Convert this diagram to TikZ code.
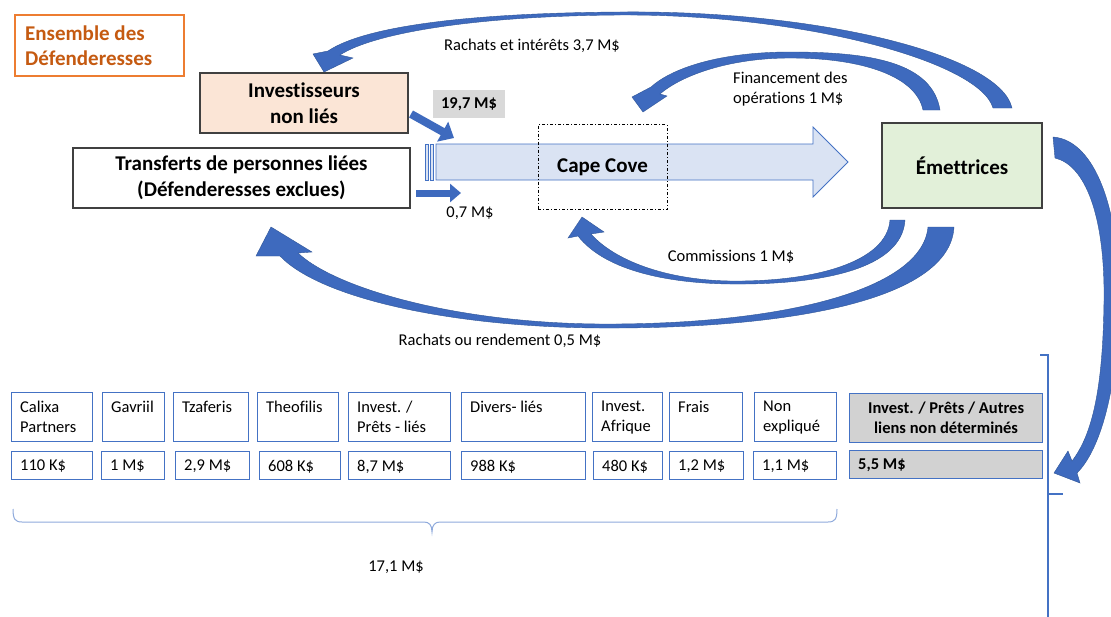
\documentclass[tikz,border=0pt]{standalone}
\usepackage{fontspec}
\setmainfont{Carlito}[RawFeature={-liga;-clig;-calt}]
\usetikzlibrary{arrows.meta}
\definecolor{arrblue}{RGB}{62,106,190}
\definecolor{arredge}{RGB}{47,85,151}
\definecolor{boxblue}{RGB}{68,114,196}
\definecolor{blockfill}{RGB}{218,227,243}
\definecolor{peach}{RGB}{251,229,214}
\definecolor{lgreen}{RGB}{226,240,217}
\definecolor{gbox}{RGB}{210,210,210}
\definecolor{lblgray}{RGB}{217,217,217}
\definecolor{orangeb}{RGB}{237,125,49}
\definecolor{oranget}{RGB}{197,90,17}
\definecolor{braceblue}{RGB}{143,170,220}
\newcommand\boxpair[7]{%
  \pgfmathsetmacro\wa{#3-#2}\pgfmathsetmacro\wb{#6-#5}%
  \node[sbox, minimum width=\wa pt, minimum height=49pt, anchor=north west] (#1l) at (#2,392) {};
  \node[stxt, anchor=north west] at ([xshift=9pt,yshift=-8.5pt]#1l.north west) {#4};
  \node[sbox, minimum width=\wb pt, minimum height=28pt, anchor=north west] (#1v) at (#5,451) {};
  \node[stxt, anchor=north west] at ([xshift=9pt,yshift=-9pt]#1v.north west) {#7};
}
\begin{document}
\begin{tikzpicture}[x=1pt,y=-1pt,
  bigbox/.style={draw=black!75, line width=1.2pt, inner sep=0pt, align=center,
     font=\fontsize{21}{26}\selectfont\bfseries},
  sbox/.style={draw=boxblue, line width=1.2pt, inner sep=0pt},
  stxt/.style={inner sep=0pt, align=left, font=\fontsize{16.5}{20}\selectfont},
  lbl/.style={inner sep=0pt, align=center, font=\fontsize{16.5}{20}\selectfont},
  curv/.style={fill=arrblue, draw=arredge, line width=0.4pt},
  sarrow/.style={draw=arrblue},
  brace/.style={draw=braceblue, line width=1pt},
  rbrace/.style={draw=boxblue, line width=2pt}]
\fill[white] (0,0) rectangle (1111,616);
\useasboundingbox (0,0) rectangle (1111,616);

% Ensemble des Défenderesses
\node[draw=orangeb, line width=1.5pt, minimum width=169pt, minimum height=61pt, inner sep=0pt] (ens) at (99.5,45.5) {};
\node[inner sep=0pt, align=left, anchor=west, text=oranget, font=\fontsize{21}{25}\selectfont\bfseries] (enst) at (25,45.5) {Ensemble des\\Défenderesses};

% main boxes
\node[bigbox, fill=peach, minimum width=208pt, minimum height=60pt] (inv) at (304,103) {Investisseurs\\non liés};
\node[bigbox, fill=white, minimum width=337pt, minimum height=60pt] (tr) at (241.5,178) {Transferts de personnes liées\\(Défenderesses exclues)};
\node[bigbox, fill=lgreen, minimum width=160pt, minimum height=85pt] (em) at (962,165.5) {Émettrices};

% block arrow
\draw[draw=boxblue, line width=0.8pt, fill=blockfill] (425,144) rectangle (428,180);
\draw[draw=boxblue, line width=0.8pt, fill=blockfill] (430,144) rectangle (433,180);
\draw[draw=boxblue, line width=0.8pt, fill=blockfill] (436,144) -- (813,144) -- (813,127) -- (848,162) -- (813,197) -- (813,180) -- (436,180) -- cycle;

% Cape Cove
\node[draw=black, dash pattern=on 3pt off 2pt on 1pt off 2pt, line width=0.8pt, minimum width=129pt, minimum height=85pt, inner sep=0pt, font=\fontsize{21}{26}\selectfont\bfseries] (cc) at (602.5,167) {Cape Cove};

% 19,7 label
\node[fill=lblgray, minimum width=72pt, minimum height=28pt, inner sep=0pt, font=\fontsize{16.5}{20}\selectfont\bfseries] (l197) at (469,104) {19,7 M\$};

% small arrows
\coordinate (d1s) at (411,114);
\coordinate (d1e) at (454,138);
\draw[sarrow, line width=8pt, -{Triangle[length=13pt,width=22pt]}] (d1s) -- (d1e);
\coordinate (h1s) at (416,193);
\coordinate (h1e) at (461,193);
\draw[sarrow, line width=7pt, -{Triangle[length=11pt,width=18pt]}] (h1s) -- (h1e);

% labels
\node[lbl] (t1) at (532,46) {Rachats et intérêts 3,7 M\$};
\node[lbl, align=left, anchor=west] (t2) at (733,89) {Financement des\\opérations 1 M\$};
\node[lbl] (t3) at (470,213) {0,7 M\$};
\node[lbl] (t4) at (731,257) {Commissions 1 M\$};
\node[lbl] (t5) at (500,341) {Rachats ou rendement 0,5 M\$};
\node[lbl] (t6) at (396,567) {17,1 M\$};

% curved arrow A (Rachats et intérets)
\filldraw[curv] (1012,108) .. controls (1000,55) and (820,10) .. (620,12)
  .. controls (470,13) and (365,26) .. (328,51)
  -- (313,54) -- (324,72) -- (353,58) -- (340,55)
  .. controls (372,34) and (470,16) .. (620,15)
  .. controls (805,14) and (980,62) .. (993,108) -- cycle;
% curved arrow B (Financement)
\filldraw[curv] (940,110) .. controls (932,62) and (870,52) .. (790,52)
  .. controls (720,52) and (672,68) .. (651,87)
  -- (632,97) -- (643,112) -- (667,96) -- (660,94)
  .. controls (682,75) and (730,58) .. (790,58)
  .. controls (862,58) and (916,76) .. (923,110) -- cycle;
% curved arrow C (Commissions)
\filldraw[curv] (905,220) .. controls (902,268) and (825,285) .. (730,284)
  .. controls (660,283) and (603,268) .. (578,236)
  -- (568,238) -- (582,217) -- (604,232) -- (591,234)
  .. controls (614,260) and (665,280) .. (730,281)
  .. controls (815,282) and (887,262) .. (890,220) -- cycle;
% curved arrow D (Rachats ou rendement)
\filldraw[curv] (954,227) .. controls (950,300) and (790,329) .. (600,328)
  .. controls (450,327) and (320,298) .. (280,256)
  -- (256,256) -- (271,227) -- (312,252) -- (298,253)
  .. controls (335,288) and (455,323) .. (600,324)
  .. controls (775,325) and (922,292) .. (928,227) -- cycle;
% curved arrow E (to 5,5 M$)
\filldraw[curv] (1053,137) .. controls (1095,140) and (1120,210) .. (1119,300)
  .. controls (1118,390) and (1100,450) .. (1077,473)
  -- (1080,483) -- (1054,473) -- (1068,451) -- (1072,461)
  .. controls (1092,435) and (1103,390) .. (1104,300)
  .. controls (1105,215) and (1085,165) .. (1055,158) -- cycle;

% bottom boxes
\boxpair{a}{11}{92}{Calixa\\Partners}{11}{92}{110 K\$}
\boxpair{b}{102}{164}{Gavriil}{101}{164}{1 M\$}
\boxpair{c}{173}{248}{Tzaferis}{175}{249}{2,9 M\$}
\boxpair{d}{257}{338}{Theofilis}{259}{340}{608 K\$}
\boxpair{e}{348}{450}{Invest. /\\Prêts - liés}{348}{450}{8,7 M\$}
\boxpair{f}{461}{585}{Divers- liés}{461}{585}{988 K\$}
\boxpair{g}{592}{662}{Invest.\\Afrique}{593}{662}{480 K\$}
\boxpair{h}{669}{742}{Frais}{669}{743}{1,2 M\$}
\boxpair{i}{754}{836}{Non\\expliqué}{753}{836}{1,1 M\$}

\node[sbox, fill=gbox, minimum width=193pt, minimum height=49pt, anchor=north west, align=center, font=\fontsize{16.5}{20}\selectfont\bfseries] (gl) at (849,393) {Invest. / Prêts / Autres\\liens non déterminés};
\node[sbox, fill=gbox, minimum width=193pt, minimum height=28pt, anchor=north west] (gv) at (849,450) {};
\node[stxt, anchor=north west, font=\fontsize{16.5}{20}\selectfont\bfseries] (gvt) at ([xshift=9pt,yshift=-9pt]gv.north west) {5,5 M\$};

% braces
\draw[brace] (13,509) .. controls (13,519) and (15,522) .. (22,522) -- (424,522)
  .. controls (429,522) and (432,525) .. (432,532)
  .. controls (432,525) and (435,522) .. (440,522) -- (828,522)
  .. controls (835,522) and (837,519) .. (837,509);
\draw[rbrace] (1040,355) -- (1048,355) -- (1048,620);
\draw[rbrace] (1048,494) -- (1063,494);
\end{tikzpicture}
\end{document}
